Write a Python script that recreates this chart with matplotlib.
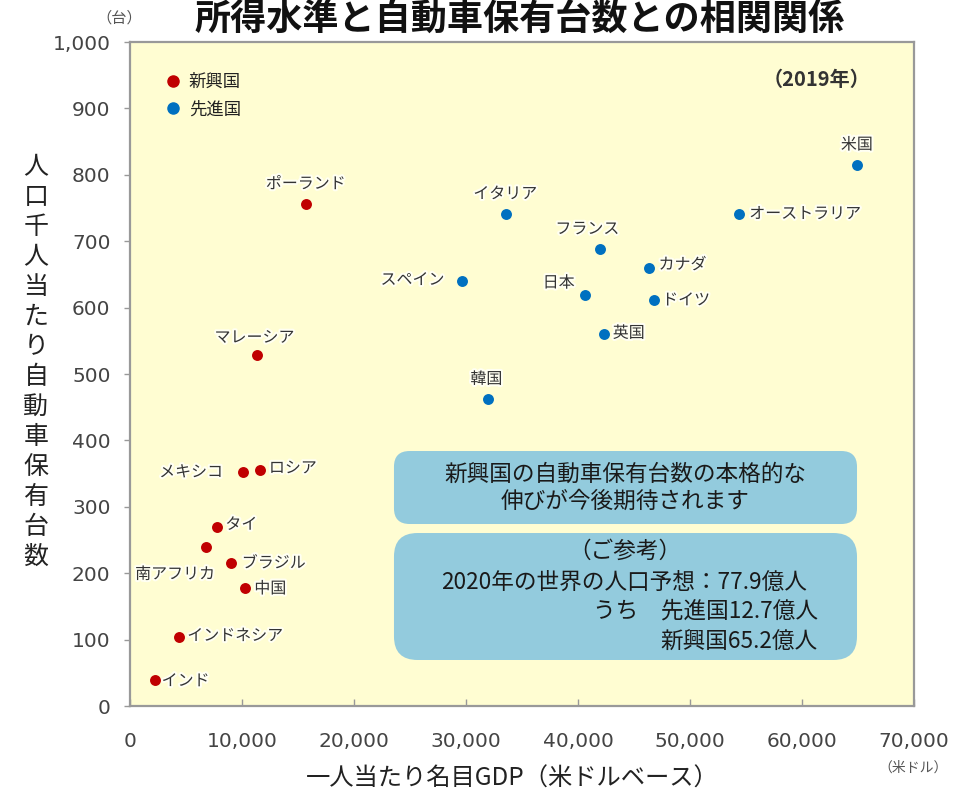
import matplotlib
matplotlib.use("Agg")
import matplotlib.pyplot as plt
from matplotlib.patches import FancyBboxPatch
from matplotlib.lines import Line2D
import matplotlib.patheffects as pe

plt.rcParams['font.family'] = ['Noto Sans CJK JP', 'DejaVu Sans']

# 新興国（一人当たり名目GDP, 人口千人当たり保有台数）
emerging_names = ["ポーランド", "マレーシア", "メキシコ", "ロシア", "タイ",
                  "南アフリカ", "ブラジル", "中国", "インドネシア", "インド"]
emerging_gdp = [15700, 11300, 10100, 11600, 7800, 6800, 9000, 10300, 4400, 2200]
emerging_cars = [756, 529, 352, 355, 270, 239, 215, 178, 104, 39]

# 先進国
developed_names = ["イタリア", "スペイン", "韓国", "フランス", "日本",
                   "カナダ", "ドイツ", "英国", "オーストラリア", "米国"]
developed_gdp = [33600, 29600, 32000, 42000, 40600, 46300, 46800, 42300, 54400, 64900]
developed_cars = [741, 640, 462, 688, 619, 660, 611, 560, 741, 815]

x_ticks = [0, 10000, 20000, 30000, 40000, 50000, 60000, 70000]
y_ticks = [0, 100, 200, 300, 400, 500, 600, 700, 800, 900, 1000]

# label placement (offset in pixels, horizontal alignment)
emerging_offsets = [(0, 20, "center"), (-2, 17, "center"), (-20, 0, "right"),
                    (9, 2, "left"), (8, 2, "left"), (9, -27, "right"),
                    (11, 0, "left"), (9, -1, "left"), (8, 1, "left"),
                    (7, -1, "left")]
developed_offsets = [(-1, 20, "center"), (-17, 1, "right"), (-2, 20, "center"),
                     (-13, 20, "center"), (-10, 12, "right"), (10, 3, "left"),
                     (8, 0, "left"), (9, 1, "left"), (10, 0, "left"),
                     (0, 20, "center")]

RED = "#C00000"
BLUE = "#0070C0"
BG = "#FFFDD2"

fig = plt.figure(figsize=(9.76, 7.96), dpi=100)
ax = fig.add_axes([130 / 976, 90 / 796, 784 / 976, 664 / 796])
ax.set_facecolor(BG)

ax.scatter(emerging_gdp, emerging_cars, s=62, color=RED, zorder=3, linewidths=0)
ax.scatter(developed_gdp, developed_cars, s=62, color=BLUE, zorder=3, linewidths=0)

halo = [pe.withStroke(linewidth=3, foreground="#FFFFF2")]
for names, xs, ys, offs in ((emerging_names, emerging_gdp, emerging_cars, emerging_offsets),
                            (developed_names, developed_gdp, developed_cars, developed_offsets)):
    for n, x, y, (dx, dy, ha) in zip(names, xs, ys, offs):
        ax.annotate(n, (x, y), xytext=(dx, dy), textcoords="offset pixels",
                    ha=ha, va="center", fontsize=11.5, color="#333333",
                    path_effects=halo, zorder=4)

ax.set_xlim(0, 70000)
ax.set_ylim(0, 1000)
ax.set_xticks(x_ticks)
ax.set_yticks(y_ticks)
ax.set_xticklabels([f"{v:,}" for v in x_ticks], family="DejaVu Sans")
ax.set_yticklabels([f"{v:,}" for v in y_ticks], family="DejaVu Sans")
ax.tick_params(axis="x", direction="in", length=5, width=1, color="#999999",
               pad=19, labelsize=14.5, labelcolor="#444444")
ax.tick_params(axis="y", direction="out", length=4, width=1, color="#999999",
               pad=10, labelsize=14.5, labelcolor="#444444")
for side, sp in ax.spines.items():
    sp.set_color("#999999")
    sp.set_linewidth(1.6)

# legend
handles = [Line2D([], [], marker="o", linestyle="none", color=RED, markersize=8, label="新興国"),
           Line2D([], [], marker="o", linestyle="none", color=BLUE, markersize=8, label="先進国")]
leg = ax.legend(handles=handles, loc="upper left", bbox_to_anchor=(0.035, 0.967),
                frameon=False, fontsize=12.5, handlelength=0.8, handletextpad=0.5,
                labelspacing=0.55, borderpad=0)
for t in leg.get_texts():
    t.set_color("#222222")

ax.text(0.944, 0.944, "（2019年）", transform=ax.transAxes, ha="right", va="center",
        fontsize=14.5, fontweight="bold", color="#333333")

# comment boxes
box_kw = dict(transform=ax.transAxes, facecolor="#93CBDD", edgecolor="none",
              mutation_aspect=784 / 664, zorder=2)
ax.add_patch(FancyBboxPatch((0.3367 + 0.02, 0.2741 + 0.0236), 0.5906 - 0.04, 0.1099 - 0.0472,
                            boxstyle="round,pad=0.02,rounding_size=0.02", **box_kw))
ax.add_patch(FancyBboxPatch((0.3367 + 0.02, 0.0693 + 0.0236), 0.5906 - 0.04, 0.1912 - 0.0472,
                            boxstyle="round,pad=0.02,rounding_size=0.03", **box_kw))

box_font = dict(transform=ax.transAxes, fontsize=16.3, color="#1A1A1A", zorder=5, va="center")
ax.text(0.6314, 0.329, "新興国の自動車保有台数の本格的な\n伸びが今後期待されます",
        ha="center", multialignment="center", linespacing=1.2, **box_font)
ax.text(0.6314, (706 - 551) / 664, "（ご参考）", ha="center", **box_font)
ax.text(0.6301, (706 - 582) / 664, "2020年の世界の人口予想：77.9億人", ha="center", **box_font)
ax.text((818 - 130) / 784, (706 - 611) / 664, "うち　先進国12.7億人", ha="right", **box_font)
ax.text((818 - 130) / 784, (706 - 641) / 664, "新興国65.2億人", ha="right", **box_font)

# titles and axis captions
fig.text(520 / 976, 1 - 1 / 796, "所得水準と自動車保有台数との相関関係",
         ha="center", va="top", fontsize=26, fontweight="bold", color="#111111")
fig.text(119 / 976, 1 - 18 / 796, "（台）", ha="center", va="center",
         fontsize=11, color="#555555")
fig.text(913 / 976, 1 - 768 / 796, "（米ドル）", ha="center", va="center",
         fontsize=10, color="#555555")
fig.text(512 / 976, 1 - 779 / 796, "一人当たり名目GDP（米ドルベース）",
         ha="center", va="center", fontsize=17.5, color="#222222")
fig.text(36 / 976, 1 - 362 / 796, "\n".join("人口千人当たり自動車保有台数"),
         ha="center", va="center", fontsize=18, linespacing=1.2, color="#222222")

fig.savefig("out.png", dpi=100, facecolor="white")
